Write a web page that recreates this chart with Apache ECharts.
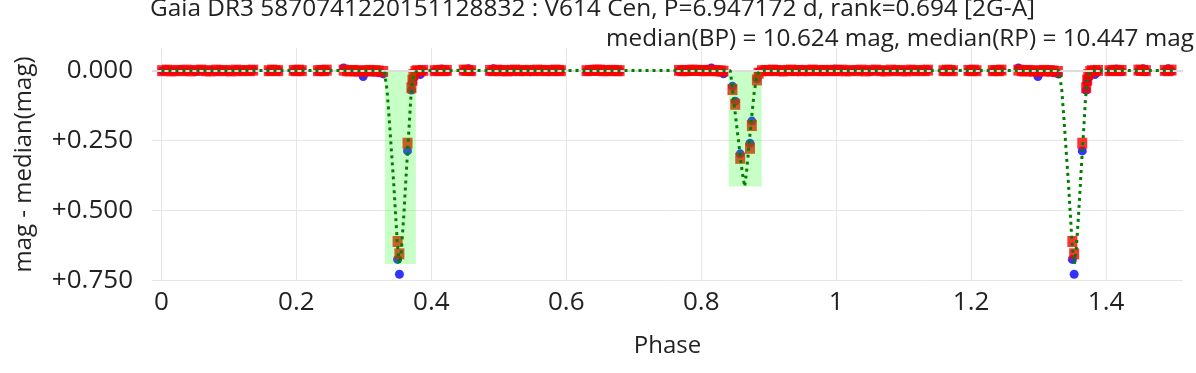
<!DOCTYPE html>
<html>
<head>
<meta charset="utf-8">
<script src="https://cdn.jsdelivr.net/npm/echarts@6/dist/echarts.min.js"></script>
<style>html,body{margin:0;padding:0;background:#fff}#c{width:1196px;height:373px}</style>
</head>
<body>
<div id="c"></div>
<script>
// ---- data (phase in [0,1); the plot repeats phases < 0.5 at phase + 1) ----
const phaseBase = [
  0.001,0.008,0.015,0.022,0.030,0.037,0.044,0.051,0.059,0.066,0.073,0.081,0.088,0.095,0.103,0.110,0.117,0.124,0.131,0.136,
  0.159,0.164,0.169,0.173,
  0.196,0.200,0.204,0.208,
  0.232,0.236,0.241,0.245,
  0.270,0.275,0.279,0.284,0.288,0.293,0.299,0.303,0.308,0.313,0.317,0.322,0.3286,
  0.3500,0.3527,0.3647,0.3705,0.3720,0.3735,0.3765,0.3790,0.3835,0.388,
  0.405,0.410,0.415,0.419,0.423,
  0.448,0.452,0.455,0.459,
  0.487,0.492,0.497,0.502,0.508,0.513,0.519,0.524,0.530,0.535,0.541,0.546,0.552,0.557,0.563,0.568,0.573,0.579,0.584,0.589,0.592,
  0.630,0.635,0.640,0.645,0.650,0.655,0.660,0.665,0.670,0.675,0.679,
  0.767,0.772,0.777,0.782,0.787,0.792,0.797,0.802,0.806,0.811,0.815,0.820,0.824,0.829,0.833,
  0.8463,0.8504,0.8578,0.8723,0.8750,0.8825,0.8850,
  0.890,0.895,0.901,0.906,0.911,0.917,0.922,0.928,0.933,0.938,0.944,0.949,0.955,0.960,0.965,0.971,0.976,0.982,0.987,0.992,0.998
];
const rpBase = [
  0.001,-0.001,0.002,0.000,0.001,-0.001,0.002,0.000,-0.001,0.001,0.002,-0.001,0.001,0.000,0.002,-0.001,0.001,0.000,0.001,-0.001,
  0.001,-0.001,0.000,0.001,
  0.000,0.001,-0.001,0.001,
  0.001,0.000,0.001,-0.001,
  -0.001,0.001,0.002,0.000,0.001,0.002,0.004,0.001,0.000,0.002,0.001,0.002,0.004,
  0.611,0.655,0.260,0.062,0.035,0.015,0.004,0.001,0.002,0.000,
  0.001,0.000,0.000,0.001,0.000,
  -0.001,0.000,0.000,0.001,
  0.000,0.001,-0.001,0.001,0.000,0.002,0.000,-0.001,0.001,0.000,0.001,0.000,0.001,-0.001,0.000,0.001,0.000,0.001,-0.001,0.000,0.001,
  0.001,0.000,0.000,-0.001,-0.001,0.001,0.001,0.000,0.000,0.001,0.001,
  0.000,0.001,0.001,0.000,-0.001,0.000,0.000,0.001,0.001,0.000,0.000,0.001,0.001,0.002,0.003,
  0.0685,0.121,0.314,0.278,0.197,0.034,0.010,
  0.001,0.000,0.001,-0.001,0.000,0.001,0.002,0.000,-0.001,0.001,0.000,0.001,0.000,0.001,-0.001,0.000,0.001,0.000,0.001,0.000,0.000
];
const bpBase = [
  0.002,-0.003,0.003,0.001,-0.002,0.002,0.000,0.003,-0.002,0.002,0.000,0.003,-0.002,0.001,0.003,-0.002,0.002,0.000,0.003,-0.002,
  0.003,-0.002,0.002,0.000,
  0.002,-0.002,0.003,0.001,
  0.003,0.002,-0.002,0.001,
  -0.009,0.002,0.003,0.001,0.006,0.004,0.022,0.004,0.002,0.006,0.003,0.008,0.0125,
  0.675,0.728,0.2875,0.070,0.042,0.026,0.008,0.003,0.015,0.002,
  0.002,0.001,-0.005,0.002,0.003,
  0.002,0.001,-0.006,0.003,
  0.003,-0.006,0.002,-0.002,0.003,0.001,0.004,-0.003,0.002,0.003,-0.002,0.003,0.001,0.002,-0.002,0.003,0.001,-0.002,0.002,0.003,0.001,
  0.003,0.001,-0.002,0.002,0.002,-0.002,0.003,0.001,-0.003,0.002,0.002,
  0.002,-0.002,-0.002,0.002,0.003,0.001,0.001,-0.003,-0.003,0.002,-0.009,0.002,0.002,0.004,0.012,
  0.057,0.110,0.298,0.260,0.181,0.030,0.006,
  0.003,-0.002,0.002,0.003,-0.002,0.001,0.003,-0.002,0.002,0.003,-0.003,0.002,0.001,0.003,-0.002,0.002,0.003,-0.002,0.002,0.001,-0.005
];
const modelPhase = [
  0.0,0.3300,0.3309,0.3343,0.3373,0.3407,0.3442,0.3472,0.3496,0.3521,0.3533,0.3557,0.3591,0.3620,0.3640,0.3665,0.3694,0.3719,0.3754,0.3803,0.5,
  0.8430,0.8437,0.8456,0.8486,0.8521,0.8556,0.8585,0.8610,0.8644,0.8669,0.8693,0.8719,0.8753,0.8783,0.8818,0.8856,0.8916,1.0
];
const modelMag = [
  0,0,0.002,0.069,0.164,0.283,0.402,0.521,0.617,0.680,0.690,0.640,0.521,0.402,0.319,0.224,0.105,0.039,0.007,0,0,
  0,0.004,0.052,0.117,0.189,0.260,0.320,0.367,0.415,0.367,0.308,0.236,0.153,0.082,0.028,0.004,0,0
];
const eclipseStart = [0.3311, 0.8407];
const eclipseEnd   = [0.3770, 0.8896];
const eclipseDepth = [0.691, 0.415];
const xTicks = [0, 0.2, 0.4, 0.6, 0.8, 1.0, 1.2, 1.4];
const yTicks = [0, 0.25, 0.5, 0.75];
const titleText = 'Gaia DR3 5870741220151128832 : V614 Cen, P=6.947172 d, rank=0.694 [2G-A]';
const subText = 'median(BP) = 10.624 mag, median(RP) = 10.447 mag';

// ---- build ----
function unfold(xs, ys, incl) {
  const out = [];
  xs.forEach((x, i) => out.push([x, ys[i]]));
  xs.forEach((x, i) => { if (incl ? x <= 0.5 : x < 0.5) out.push([x + 1, ys[i]]); });
  return out;
}
const rpData = unfold(phaseBase, rpBase, false);
const bpData = unfold(phaseBase, bpBase, false);
const modelData = unfold(modelPhase, modelMag, true).sort((a, b) => a[0] - b[0]);
const rectData = eclipseStart.map((s, i) => [s, eclipseEnd[i], 0, eclipseDepth[i]]);

const FONT = 'Open Sans';
const TXT = '#222';
const chart = echarts.init(document.getElementById('c'), null, {renderer: 'canvas'});
chart.setOption({
  animation: false,
  backgroundColor: '#fff',
  title: [
    {text: titleText, left: 150, top: -3, padding: 0,
     textStyle: {fontFamily: FONT, fontSize: 24.4, fontWeight: 'normal', color: TXT}},
    {text: subText, right: 2, top: 27, padding: 0,
     textStyle: {fontFamily: FONT, fontSize: 24.3, fontWeight: 'normal', color: TXT}}
  ],
  grid: {left: 152, right: 13, top: 48, bottom: 92, containLabel: false},
  xAxis: {
    type: 'value', min: -0.014, max: 1.514,
    name: 'Phase', nameLocation: 'middle', nameGap: 53,
    nameTextStyle: {fontFamily: FONT, fontSize: 24, color: TXT},
    axisLine: {show: false}, axisTick: {show: false, customValues: xTicks},
    axisLabel: {customValues: xTicks, margin: 9, fontFamily: FONT, fontSize: 26, color: TXT,
      formatter: v => String(+(+v).toFixed(1))},
    splitLine: {show: true, lineStyle: {color: '#e6e6e6', width: 1}}
  },
  yAxis: {
    type: 'value', inverse: true, min: -0.08, max: 0.752,
    name: 'mag - median(mag)', nameLocation: 'middle', nameGap: 116,
    nameTextStyle: {fontFamily: FONT, fontSize: 24, color: TXT},
    axisLine: {show: false}, axisTick: {show: false, customValues: yTicks},
    axisLabel: {customValues: yTicks, margin: 19, fontFamily: FONT, fontSize: 26, color: TXT,
      formatter: v => (Math.abs(v) < 1e-9 ? '0.000' : '+' + (+v).toFixed(3))},
    splitLine: {show: true, lineStyle: {color: '#e6e6e6', width: 1}}
  },
  series: [
    {type: 'line', data: [[0, 0]], symbol: 'none', lineStyle: {opacity: 0}, z: 1, silent: true,
     markLine: {silent: true, symbol: 'none', label: {show: false},
       lineStyle: {color: '#dcdcdc', width: 2, type: 'solid'}, data: [{yAxis: 0}]}},
    {name: 'BP', type: 'scatter', data: bpData, symbol: 'circle', symbolSize: 9,
     itemStyle: {color: '#0000ff'}, z: 2},
    {name: 'RP', type: 'scatter', data: rpData, symbol: 'rect', symbolSize: [10, 11],
     itemStyle: {color: '#ff0000'}, z: 3},
    {type: 'custom', data: rectData, z: 4, silent: true,
     encode: {x: [0, 1], y: [2, 3]},
     renderItem: function (params, api) {
       const p0 = api.coord([api.value(0), api.value(2)]);
       const p1 = api.coord([api.value(1), api.value(3)]);
       return {type: 'rect',
         shape: {x: Math.min(p0[0], p1[0]), y: Math.min(p0[1], p1[1]),
                 width: Math.abs(p1[0] - p0[0]), height: Math.abs(p1[1] - p0[1])},
         style: {fill: 'rgba(0,255,0,0.22)'}};
     }},
    {name: 'model', type: 'line', data: modelData, symbol: 'none', z: 5, silent: true,
     lineStyle: {color: '#008000', width: 3, type: [3, 4], cap: 'butt'}}
  ]
});
</script>
</body>
</html>
